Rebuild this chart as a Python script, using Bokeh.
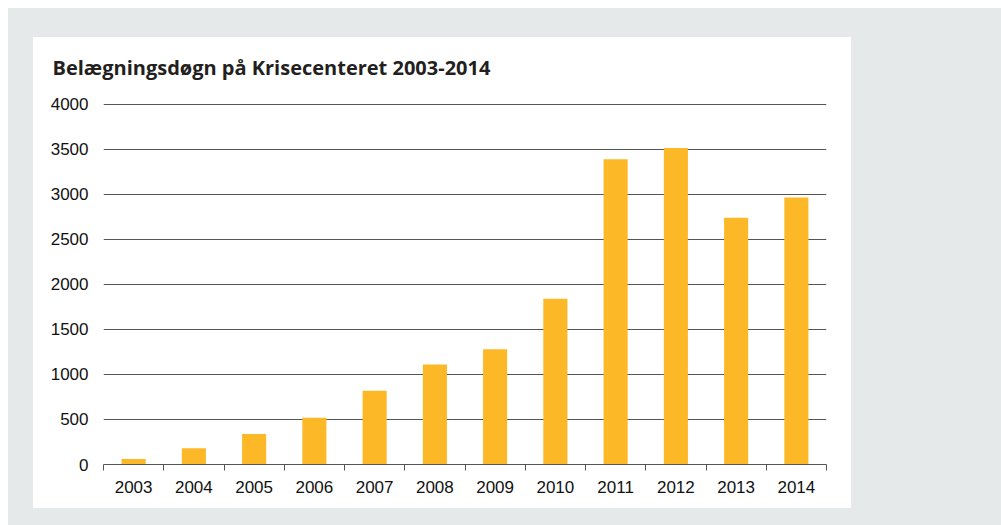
from bokeh.plotting import figure
from bokeh.models import FixedTicker, Range1d, Spacer
from bokeh.layouts import row, column
from bokeh.core.properties import value
from bokeh.embed import file_html
from bokeh.resources import INLINE

years = ["2003", "2004", "2005", "2006", "2007", "2008",
         "2009", "2010", "2011", "2012", "2013", "2014"]
values = [60, 180, 340, 520, 820, 1110, 1280, 1840, 3390, 3515, 2740, 2965]
y_ticks = [0, 500, 1000, 1500, 2000, 2500, 3000, 3500, 4000]
title_text = "Belægningsdøgn på Krisecenteret 2003-2014"

xs = list(range(len(years)))

# --- title strip (pixel-scaled ranges) ---
TW, TH = 818, 57
top = figure(width=TW, height=TH, x_range=Range1d(0, TW), y_range=Range1d(0, TH),
             x_axis_type=None, y_axis_type=None, min_border=0,
             min_border_left=0, min_border_right=0,
             min_border_top=0, min_border_bottom=0,
             output_backend="svg", toolbar_location=None,
             border_fill_color=None, background_fill_color=None,
             outline_line_color=None)
if hasattr(top, "frame_align"):
    top.frame_align = False
top.text(x=[19], y=[TH - 30], text=[title_text],
         text_font=value("Open Sans"), text_font_style="bold",
         text_font_size="20px", text_color="#231f20",
         text_align="left", text_baseline="alphabetic")

# --- main chart ---
p = figure(width=818, height=414,
           x_range=Range1d(-0.5, len(years) - 0.5),
           y_range=Range1d(0, 4008),
           output_backend="svg", toolbar_location=None,
           min_border_left=70, min_border_right=25,
           min_border_top=9, min_border_bottom=44,
           border_fill_color=None, background_fill_color=None,
           outline_line_color=None)
if hasattr(p, "frame_align"):
    p.frame_align = False

p.vbar(x=xs, top=values, width=0.4, fill_color="#FDB827", line_color=None)

# x axis
xa = p.xaxis[0]
xa.ticker = FixedTicker(ticks=xs, minor_ticks=[i - 0.5 for i in range(len(years) + 1)])
xa.major_label_overrides = {i: y for i, y in enumerate(years)}
xa.major_tick_line_color = None
xa.major_tick_out = 0
xa.major_tick_in = 0
xa.minor_tick_out = 6
xa.minor_tick_in = 0
xa.minor_tick_line_color = "#555555"
xa.axis_line_color = "#555555"
xa.major_label_text_font = "Liberation Sans"
xa.major_label_text_font_size = "17px"
xa.major_label_text_color = "#111111"
xa.major_label_standoff = 10

# y axis
ya = p.yaxis[0]
ya.ticker = FixedTicker(ticks=y_ticks)
ya.axis_line_color = None
ya.major_tick_line_color = None
ya.minor_tick_line_color = None
ya.major_tick_out = 0
ya.major_tick_in = 0
ya.major_label_text_font = "Liberation Sans"
ya.major_label_text_font_size = "17px"
ya.major_label_text_color = "#111111"
ya.major_label_standoff = 15

p.xgrid.grid_line_color = None
p.ygrid.ticker = FixedTicker(ticks=y_ticks)
p.ygrid.grid_line_color = "#555555"
p.ygrid.grid_line_width = 1

panel = column(top, p, styles={"background-color": "white"})

grey = row(
    Spacer(width=25, height=517),
    column(Spacer(width=818, height=29), panel, Spacer(width=818, height=17)),
    Spacer(width=150, height=517),
    styles={"background-color": "#e6e9e9"},
)

layout = column(
    Spacer(width=1001, height=8),
    row(Spacer(width=8, height=517), grey),
)

open("out.html", "w").write(file_html(layout, INLINE))
